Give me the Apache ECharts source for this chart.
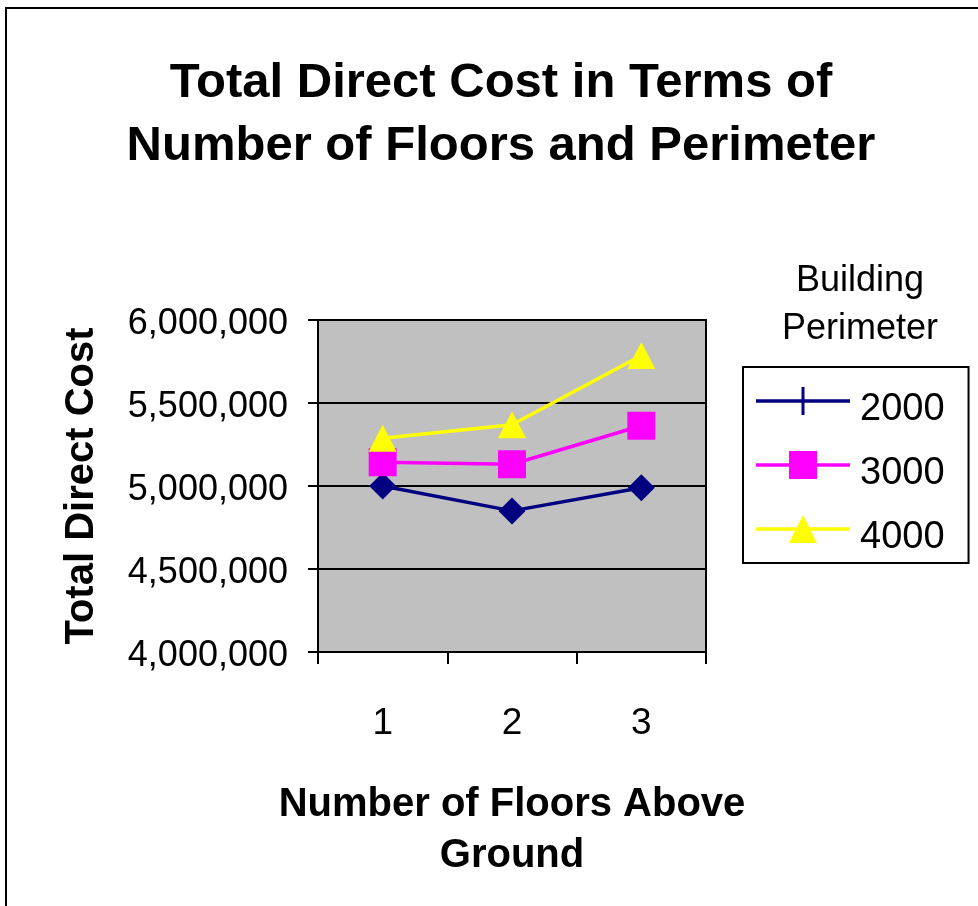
<!DOCTYPE html>
<html>
<head>
<meta charset="utf-8">
<script src="https://cdn.jsdelivr.net/npm/echarts@6/dist/echarts.min.js"></script>
<style>
  html, body { margin: 0; padding: 0; background: #fff; }
  #chart { width: 978px; height: 906px; }
</style>
</head>
<body>
<div id="chart"></div>
<script>
// Floors above ground (category axis)
const floors = ['1', '2', '3'];
// Total direct cost by building perimeter
const perimeterNames = ['2000', '3000', '4000'];
const cost2000 = [5000000, 4850000, 4990000];
const cost3000 = [5143000, 5131000, 5363000];
const cost4000 = [5288000, 5369000, 5786000];
// Value axis range and step
const yMin = 4000000;
const yMax = 6000000;
const yStep = 500000;

const FONT = '"Liberation Sans", Arial, sans-serif';
const colors = ['#000080', '#ff00ff', '#ffff00'];
const symbols = ['diamond', 'rect', 'triangle'];
const symbolSizes = [[27, 27], [28, 28], [28, 27]];
// Legend keys: a line with the series marker on top
const legendIcons = [
  'path://M0,12.3H94V15.7H0Z M45.5,0H48.5V28H45.5Z',
  'path://M0,12.3H94V15.7H0Z M33,0H61V28H33Z',
  'path://M0,12.3H94V15.7H0Z M47,0L61,28H33Z'
];
const values = [cost2000, cost3000, cost4000];

const fmt = v => v.toLocaleString('en-US');

const chart = echarts.init(document.getElementById('chart'), null, { renderer: 'canvas' });

chart.setOption({
  backgroundColor: '#ffffff',
  animation: false,
  title: [
    {
      text: 'Total Direct Cost in Terms of\nNumber of Floors and Perimeter',
      left: 496,
      top: 47,
      textAlign: 'center',
      textStyle: { fontFamily: FONT, fontSize: 49, fontWeight: 'bold', color: '#000', lineHeight: 63 }
    },
    {
      text: 'Building\nPerimeter',
      left: 855,
      top: 252,
      textAlign: 'center',
      textStyle: { fontFamily: FONT, fontSize: 36, fontWeight: 'normal', color: '#000', lineHeight: 48 }
    }
  ],
  legend: {
    orient: 'vertical',
    left: 743,
    top: 367,
    padding: [6, 24, 6, 13],
    backgroundColor: '#fff',
    borderColor: '#000',
    borderWidth: 2,
    itemWidth: 94,
    itemHeight: 28,
    itemGap: 8,
    selectedMode: false,
    formatter: '{t|{name}}',
    textStyle: {
      fontFamily: FONT, fontSize: 38, color: '#000',
      rich: {
        t: { fontFamily: FONT, fontSize: 38, color: '#000', lineHeight: 30, padding: [18, 0, 0, 5] }
      }
    },
    data: perimeterNames.map((n, i) => ({ name: n, icon: legendIcons[i] }))
  },
  grid: {
    left: 318,
    right: 272,
    top: 320,
    bottom: 254,
    show: true,
    backgroundColor: '#c0c0c0',
    borderColor: '#000',
    borderWidth: 2
  },
  xAxis: {
    type: 'category',
    data: floors,
    boundaryGap: true,
    name: 'Number of Floors Above\nGround',
    nameLocation: 'middle',
    nameGap: 127,
    nameTextStyle: { fontFamily: FONT, fontSize: 40, fontWeight: 'bold', color: '#000', lineHeight: 51 },
    axisLine: { show: true, lineStyle: { color: '#000', width: 2 } },
    axisTick: { show: true, inside: false, length: 12, lineStyle: { color: '#000', width: 2 } },
    axisLabel: { margin: 53, fontFamily: FONT, fontSize: 37, color: '#000' },
    splitLine: { show: false }
  },
  yAxis: {
    type: 'value',
    min: yMin,
    max: yMax,
    interval: yStep,
    name: 'Total Direct Cost',
    nameLocation: 'middle',
    nameRotate: 90,
    nameGap: 216,
    nameTextStyle: { fontFamily: FONT, fontSize: 40, fontWeight: 'bold', color: '#000' },
    axisLine: { show: true, lineStyle: { color: '#000', width: 2 } },
    axisTick: { show: true, inside: false, length: 10, lineStyle: { color: '#000', width: 2 } },
    axisLabel: {
      margin: 30, verticalAlign: 'top', lineHeight: 9,
      fontFamily: FONT, fontSize: 36, color: '#000', formatter: v => fmt(v)
    },
    splitLine: { show: true, lineStyle: { color: '#000', width: 2 } }
  },
  series: perimeterNames.map((n, i) => ({
    name: n,
    type: 'line',
    data: values[i],
    symbol: symbols[i],
    symbolSize: symbolSizes[i],
    itemStyle: { color: colors[i] },
    lineStyle: { color: colors[i], width: 3.5 },
    z: 2 + i
  })),
  graphic: [
    {
      type: 'rect',
      shape: { x: 6, y: 8, width: 990, height: 910 },
      style: { fill: 'none', stroke: '#000', lineWidth: 2 },
      silent: true
    }
  ]
});
</script>
</body>
</html>
